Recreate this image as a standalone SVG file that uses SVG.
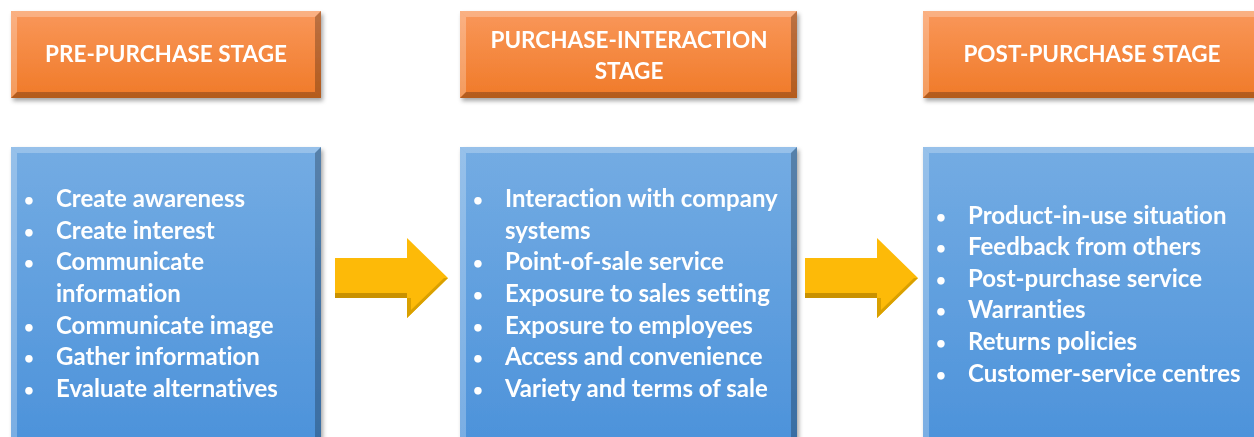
<svg xmlns="http://www.w3.org/2000/svg" width="1254" height="437" viewBox="0 0 1254 437">
<defs>
<linearGradient id="og" x1="0" y1="0" x2="0" y2="1">
<stop offset="0" stop-color="#F9975A"/><stop offset="1" stop-color="#F07A28"/>
</linearGradient>
<linearGradient id="bg" x1="0" y1="0" x2="0" y2="1">
<stop offset="0" stop-color="#74ACE3"/><stop offset="1" stop-color="#4C92DA"/>
</linearGradient>
<filter id="sh" x="-5%" y="-5%" width="110%" height="115%">
<feDropShadow dx="2" dy="3" stdDeviation="2" flood-color="#000" flood-opacity="0.35"/>
</filter>
<g id="arrowShape">
<polygon points="0,20 72,20 72,0 113,40 72,80 72,60 0,60" fill="#FDBA08"/>
<polygon points="0,55 72,55 72,60 0,60" fill="#C99100"/>
<polygon points="72,60 72,80 113,40 109,40 76,72 76,60" fill="#D9A000"/>
</g>
</defs>
<style>
.hd{font-family:Lato,"Open Sans","Liberation Sans",sans-serif;font-weight:bold;font-size:22.5px;fill:#fff;text-anchor:middle;font-variant-ligatures:none}
.li{font-family:Lato,"Open Sans","Liberation Sans",sans-serif;font-weight:bold;font-size:24px;fill:#fff;font-variant-ligatures:none}
.bu{font-size:17px}
.hi{fill:#fff;opacity:0.25}
.dk{fill:#000;opacity:0.25}
</style>
<rect width="1254" height="437" fill="#fff"/>

<g id="header1" filter="url(#sh)">
<rect x="11" y="11" width="310" height="87" fill="url(#og)"/>
<polygon class="hi" points="11,11 321,11 315,17 17,17"/>
<polygon class="hi" points="11,11 17,17 17,92 11,98"/>
<polygon class="dk" points="321,11 321,98 315,92 315,17"/>
<polygon class="dk" points="11,98 321,98 315,92 17,92"/>
<text class="hd" x="166" y="62">PRE-PURCHASE STAGE</text>
</g>
<g id="header2" filter="url(#sh)">
<rect x="460" y="11" width="337" height="87" fill="url(#og)"/>
<polygon class="hi" points="460,11 797,11 791,17 466,17"/>
<polygon class="hi" points="460,11 466,17 466,92 460,98"/>
<polygon class="dk" points="797,11 797,98 791,92 791,17"/>
<polygon class="dk" points="460,98 797,98 791,92 466,92"/>
<text class="hd" x="629" y="48">PURCHASE-INTERACTION</text>
<text class="hd" x="629" y="79">STAGE</text>
</g>
<g id="header3" filter="url(#sh)">
<rect x="923" y="11" width="340" height="87" fill="url(#og)"/>
<polygon class="hi" points="923,11 1263,11 1257,17 929,17"/>
<polygon class="hi" points="923,11 929,17 929,92 923,98"/>
<polygon class="dk" points="923,98 1263,98 1257,92 929,92"/>
<text class="hd" x="1092" y="62">POST-PURCHASE STAGE</text>
</g>

<g id="box1" filter="url(#sh)">
<rect x="11" y="147" width="310" height="300" fill="url(#bg)"/>
<polygon class="hi" points="11,147 321,147 315,153 17,153"/>
<polygon class="hi" points="11,147 17,153 17,447 11,447"/>
<polygon class="dk" points="321,147 321,447 315,447 315,153"/>
<g class="li">
<text class="bu" x="24" y="206">•</text><text x="56" y="207">Create awareness</text>
<text class="bu" x="24" y="238">•</text><text x="56" y="239">Create interest</text>
<text class="bu" x="24" y="269">•</text><text x="56" y="270">Communicate</text>
<text x="56" y="302">information</text>
<text class="bu" x="24" y="333">•</text><text x="56" y="334">Communicate image</text>
<text class="bu" x="24" y="364">•</text><text x="56" y="365">Gather information</text>
<text class="bu" x="24" y="396">•</text><text x="56" y="397">Evaluate alternatives</text>
</g>
</g>
<g id="box2" filter="url(#sh)">
<rect x="460" y="147" width="337" height="300" fill="url(#bg)"/>
<polygon class="hi" points="460,147 797,147 791,153 466,153"/>
<polygon class="hi" points="460,147 466,153 466,447 460,447"/>
<polygon class="dk" points="797,147 797,447 791,447 791,153"/>
<g class="li">
<text class="bu" x="473" y="206">•</text><text x="505" y="207">Interaction with company</text>
<text x="505" y="239">systems</text>
<text class="bu" x="473" y="269">•</text><text x="505" y="270">Point-of-sale service</text>
<text class="bu" x="473" y="301">•</text><text x="505" y="302">Exposure to sales setting</text>
<text class="bu" x="473" y="333">•</text><text x="505" y="334">Exposure to employees</text>
<text class="bu" x="473" y="364">•</text><text x="505" y="365">Access and convenience</text>
<text class="bu" x="473" y="396">•</text><text x="505" y="397">Variety and terms of sale</text>
</g>
</g>
<g id="box3" filter="url(#sh)">
<rect x="923" y="147" width="340" height="300" fill="url(#bg)"/>
<polygon class="hi" points="923,147 1263,147 1257,153 929,153"/>
<polygon class="hi" points="923,147 929,153 929,447 923,447"/>
<g class="li">
<text class="bu" x="936" y="223">•</text><text x="968" y="224">Product-in-use situation</text>
<text class="bu" x="936" y="254">•</text><text x="968" y="255">Feedback from others</text>
<text class="bu" x="936" y="286">•</text><text x="968" y="287">Post-purchase service</text>
<text class="bu" x="936" y="317">•</text><text x="968" y="318">Warranties</text>
<text class="bu" x="936" y="349">•</text><text x="968" y="350">Returns policies</text>
<text class="bu" x="936" y="381">•</text><text x="968" y="382">Customer-service centres</text>
</g>
</g>

<g id="connectors">
<use href="#arrowShape" x="335" y="238"/>
<use href="#arrowShape" x="805" y="238"/>
</g>
</svg>
